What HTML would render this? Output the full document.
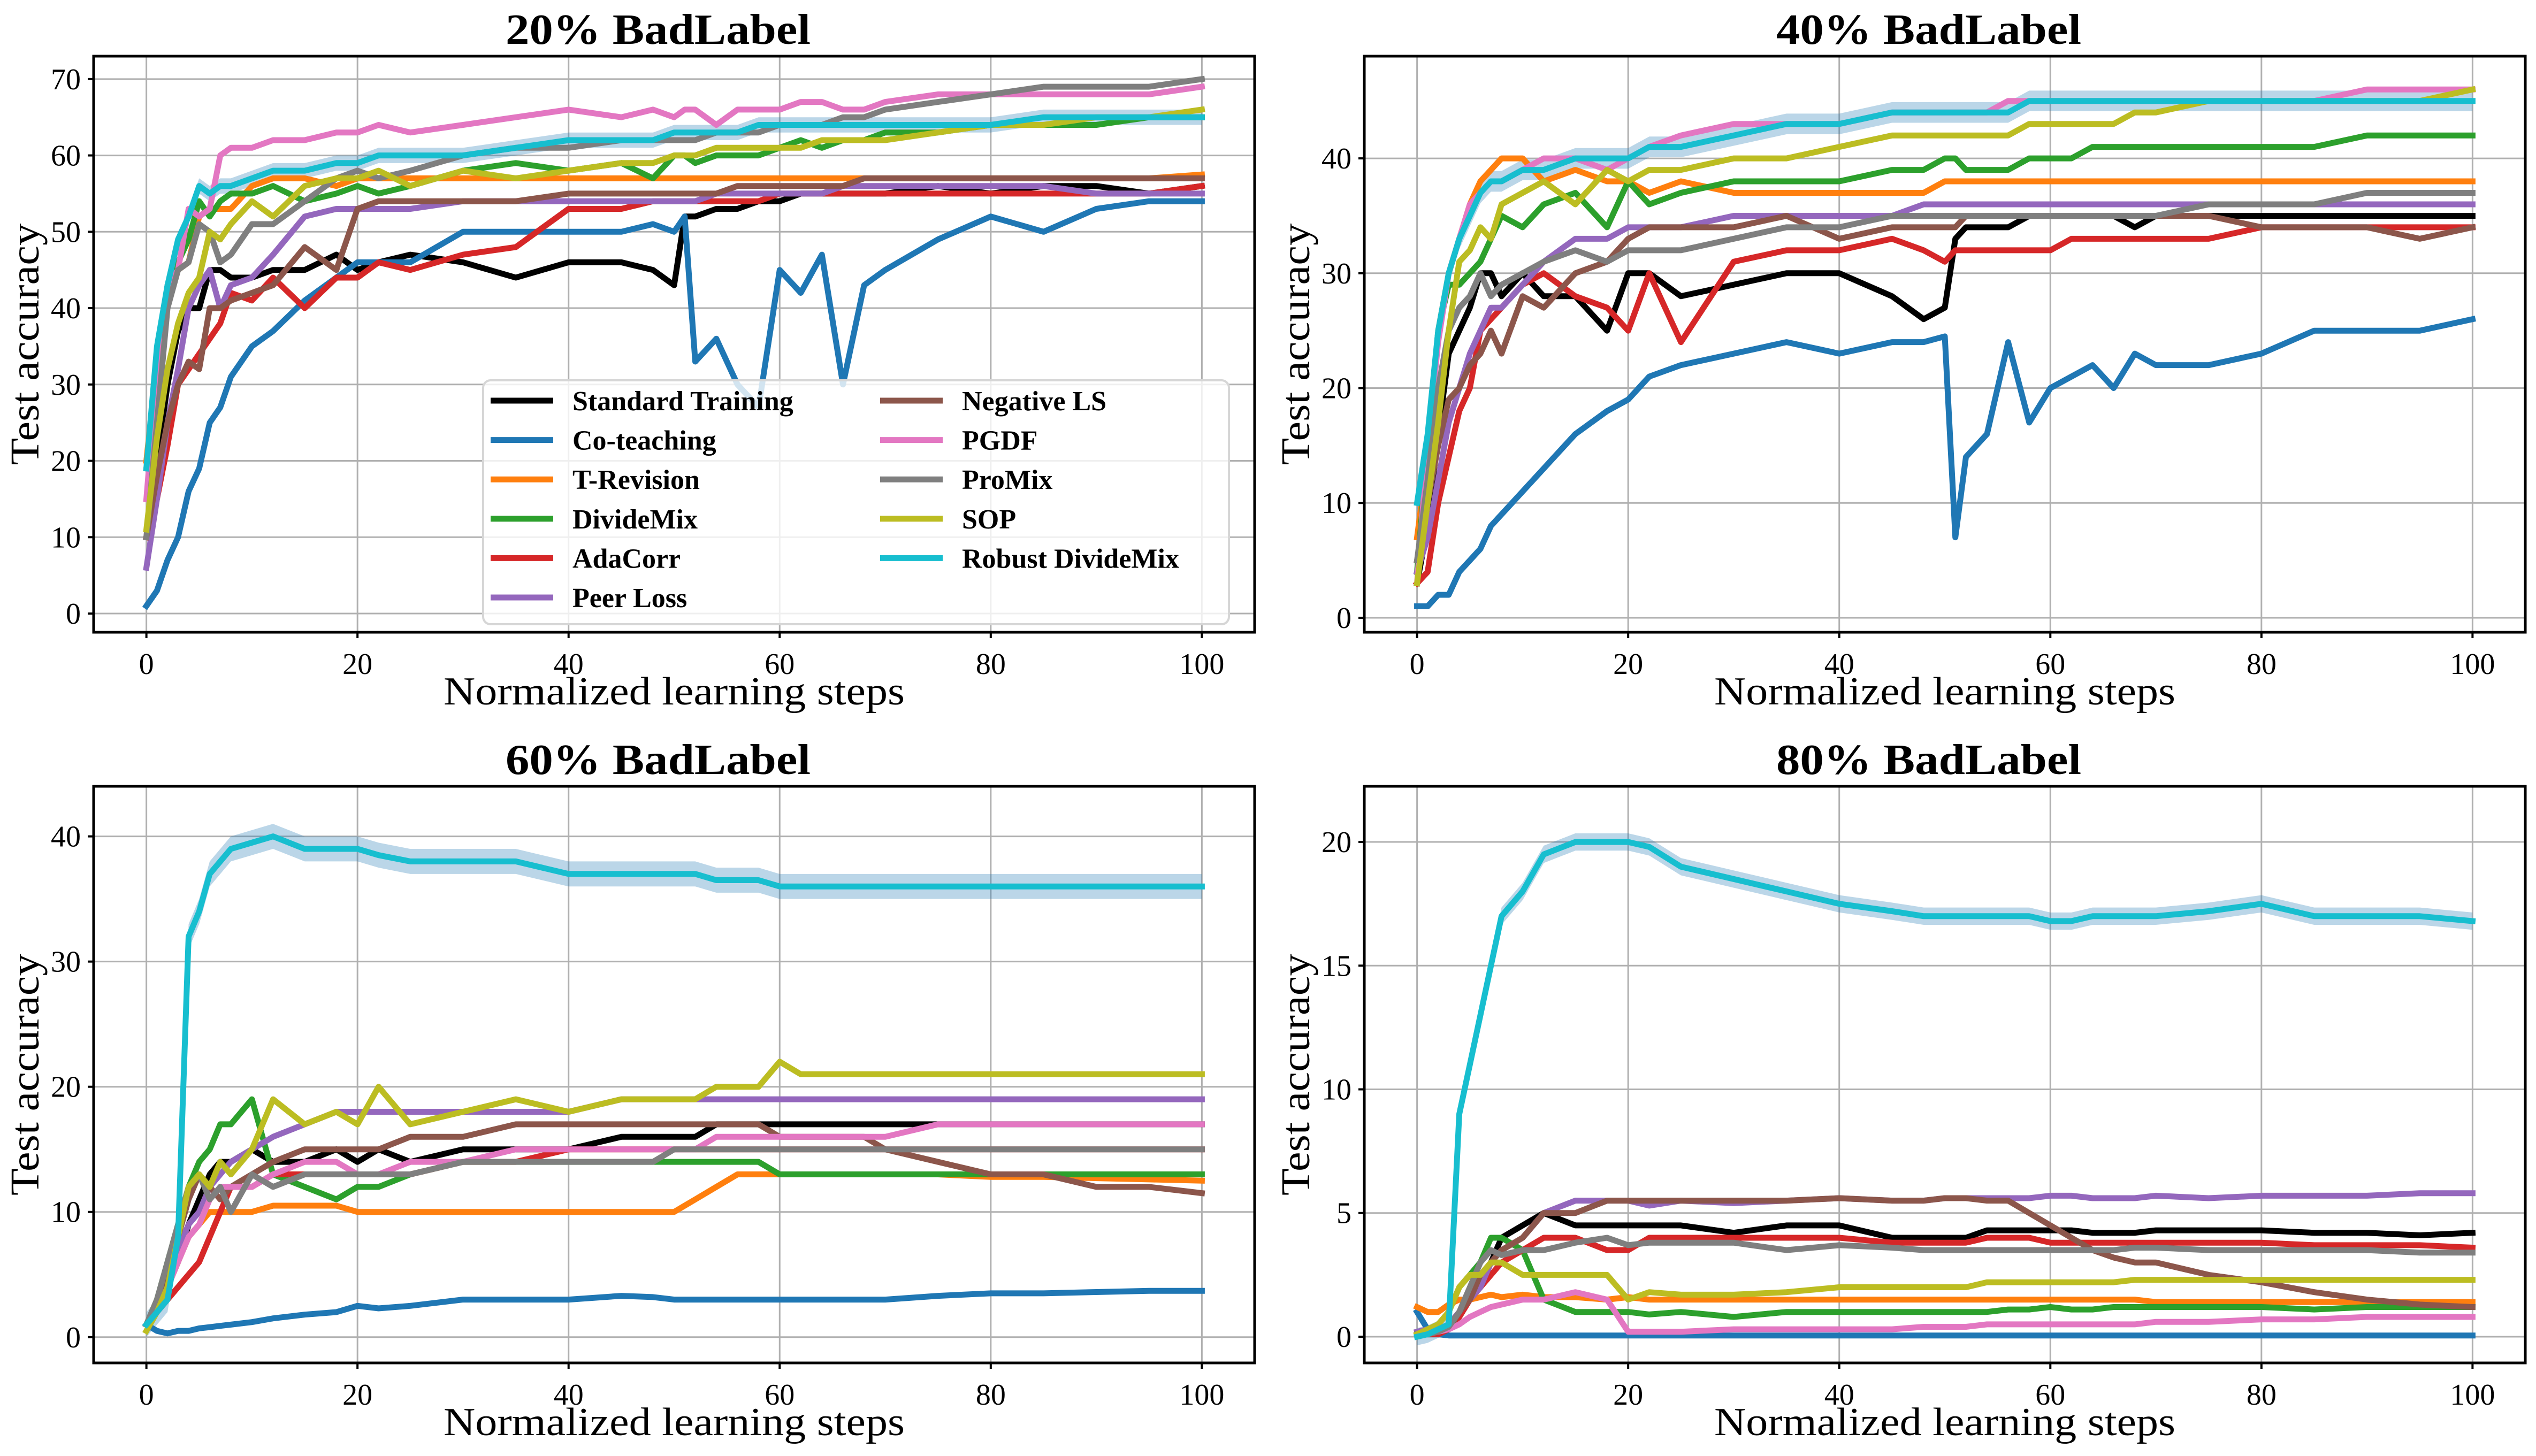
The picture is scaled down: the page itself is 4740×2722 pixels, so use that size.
<!DOCTYPE html>
<html><head><meta charset="utf-8"><style>
html,body{margin:0;padding:0;background:#fff;}
svg{display:block;}
text{font-family:"Liberation Serif","DejaVu Serif",serif;fill:#000;}
</style></head><body>
<svg id="fig" width="4740" height="2722" viewBox="0 0 4740 2722" xmlns="http://www.w3.org/2000/svg"></svg>
<script>
const steps = [0,1,2,3,4,5,6,7,8,10,12,15,18,20,22,25,30,35,40,45,48,50,51,52,54,56,58,60,62,64,66,68,70,75,80,85,90,95,100];
const methods = ["Standard Training","Co-teaching","T-Revision","DivideMix","AdaCorr","Peer Loss","Negative LS","PGDF","ProMix","SOP","Robust DivideMix"];
const titles = ["20% BadLabel","40% BadLabel","60% BadLabel","80% BadLabel"];
const yTicks1 = [0,10,20,30,40,50,60,70];
const yTicks2 = [0,10,20,30,40];
const yTicks3 = [0,10,20,30,40];
const yTicks4 = [0,5,10,15,20];
const xTicks = [0,20,40,60,80,100];
const bandHalf = [1.0,0.9,1.0,0.35];

const p1 = {
"Standard Training":[10,20,30,37,40,40,45,45,44,44,45,45,47,45,46,47,46,44,46,46,45,43,52,52,53,53,54,54,55,55,55,55,55,56,55,56,56,55,56],
"Co-teaching":[1,3,7,10,16,19,25,27,31,35,37,41,44,46,46,46,50,50,50,50,51,50,52,33,36,30,27,45,42,47,30,43,45,49,52,50,53,54,54],
"T-Revision":[20,33,42,45,46,52,53,53,53,56,57,57,56,57,57,57,57,57,57,57,57,57,57,57,57,57,57,57,57,57,57,57,57,57,57,57,57,57,57.5],
"DivideMix":[19,33,43,46,49,54,52,54,55,55,56,54,55,56,55,56,58,59,58,59,57,60,60,59,60,60,60,61,62,61,62,62,63,63,64,64,64,65,65],
"AdaCorr":[10,15,22,30,32,34,36,38,42,41,44,40,44,44,46,45,47,48,53,53,54,54,54,54,54,54,54,55,55,55,55,55,55,55,55,55,55,55,56],
"Peer Loss":[6,15,25,32,40,43,45,40,43,44,47,52,53,53,53,53,54,54,54,54,54,54,54,54,55,55,55,55,55,55,56,56,56,56,56,56,55,55,55],
"Negative LS":[10,18,25,30,33,32,40,40,41,42,43,48,45,53,54,54,54,54,55,55,55,55,55,55,55,56,56,56,56,56,56,57,57,57,57,57,57,57,57],
"PGDF":[15,32,43,45,53,52,53,60,61,61,62,62,63,63,64,63,64,65,66,65,66,65,66,66,64,66,66,66,67,67,66,66,67,68,68,68,68,68,69],
"ProMix":[10,25,40,45,46,51,50,46,47,51,51,54,57,58,57,58,60,61,61,62,62,62,62,62,63,63,63,64,64,64,65,65,66,67,68,69,69,69,70],
"SOP":[11,23,32,38,42,44,50,49,51,54,52,56,57,57,58,56,58,57,58,59,59,60,60,60,61,61,61,61,61,62,62,62,62,63,64,64,65,65,66],
"Robust DivideMix":[19,35,43,49,52,56,55,56,56,57,58,58,59,59,60,60,60,61,62,62,62,63,63,63,63,63,64,64,64,64,64,64,64,64,64,65,65,65,65]
};
const p2 = {
"Standard Training":[3,8,16,23,25,27,30,30,28,30,28,28,25,30,30,28,29,30,30,28,26,27,33,34,34,34,35,35,35,35,35,34,35,35,35,35,35,35,35],
"Co-teaching":[1,1,2,2,4,5,6,8,9,11,13,16,18,19,21,22,23,24,23,24,24,24.5,7,14,16,24,17,20,21,22,20,23,22,22,23,25,25,25,26],
"T-Revision":[7,14,25,30,33,36,38,39,40,40,38,39,38,38,37,38,37,37,37,37,37,38,38,38,38,38,38,38,38,38,38,38,38,38,38,38,38,38,38],
"DivideMix":[4,15,25,29,29,30,31,33,35,34,36,37,34,38,36,37,38,38,38,39,39,40,40,39,39,39,40,40,40,41,41,41,41,41,41,41,42,42,42],
"AdaCorr":[3,4,10,14,18,20,25,26,27,29,30,28,27,25,30,24,31,32,32,33,32,31,32,32,32,32,32,32,33,33,33,33,33,33,34,34,34,34,34],
"Peer Loss":[4,7,12,17,20,23,25,27,27,29,31,33,33,34,34,34,35,35,35,35,36,36,36,36,36,36,36,36,36,36,36,36,36,36,36,36,36,36,36],
"Negative LS":[5,10,15,19,20,22,23,25,23,28,27,30,31,33,34,34,34,35,33,34,34,34,34,35,35,35,35,35,35,35,35,35,35,35,34,34,34,33,34],
"PGDF":[3,15,24,30,33,36,37,38,38,39,40,40,39,40,41,42,43,43,43,44,44,44,44,44,44,45,45,45,45,45,45,45,45,45,45,45,46,46,46],
"ProMix":[5,12,20,25,27,28,30,28,29,30,31,32,31,32,32,32,33,34,34,35,35,35,35,35,35,35,35,35,35,35,35,35,35,36,36,36,37,37,37],
"SOP":[3,10,17,25,31,32,34,33,36,37,38,36,39,38,39,39,40,40,41,42,42,42,42,42,42,42,43,43,43,43,43,44,44,45,45,45,45,45,46],
"Robust DivideMix":[10,16,25,30,33,35,37,38,38,39,39,40,40,40,41,41,42,43,43,44,44,44,44,44,44,44,45,45,45,45,45,45,45,45,45,45,45,45,45]
};
const p3 = {
"Standard Training":[1,2,4,6,9,11,13,14,14,15,14,14,15,14,15,14,15,15,15,16,16,16,16,16,17,17,17,17,17,17,17,17,17,17,17,17,17,17,17],
"Co-teaching":[1,0.5,0.3,0.5,0.5,0.7,0.8,0.9,1,1.2,1.5,1.8,2,2.5,2.3,2.5,3,3,3,3.3,3.2,3,3,3,3,3,3,3,3,3,3,3,3,3.3,3.5,3.5,3.6,3.7,3.7],
"T-Revision":[1,2,4,6,8,9,10,10,10,10,10.5,10.5,10.5,10,10,10,10,10,10,10,10,10,10.5,11,12,13,13,13,13,13,13,13,13,13,12.8,12.8,12.7,12.6,12.5],
"DivideMix":[1,3,6,9,12,14,15,17,17,19,13,12,11,12,12,13,14,14,14,14,14,14,14,14,14,14,14,13,13,13,13,13,13,13,13,13,13,13,13],
"AdaCorr":[1,2,3,4,5,6,8,10,12,12,13,13,13,13,13,13,14,14,15,15,15,15,15,15,15,15,15,15,15,15,15,15,15,15,15,15,15,15,15],
"Peer Loss":[1,2,4,7,9,10,12,13,14,15,16,17,18,18,18,18,18,18,18,19,19,19,19,19,19,19,19,19,19,19,19,19,19,19,19,19,19,19,19],
"Negative LS":[1,2,5,8,11,13,12,11,12,13,14,15,15,15,15,16,16,17,17,17,17,17,17,17,17,17,17,16,16,16,16,16,15,14,13,13,12,12,11.5],
"PGDF":[1,2,4,6,8,9,11,12,12,12,13,14,14,13,13,14,14,15,15,15,15,15,15,15,16,16,16,16,16,16,16,16,16,17,17,17,17,17,17],
"ProMix":[1,3,6,9,12,13,11,12,10,13,12,13,13,13,13,13,14,14,14,14,14,15,15,15,15,15,15,15,15,15,15,15,15,15,15,15,15,15,15],
"SOP":[0.5,2,4,8,12,13,12,14,13,15,19,17,18,17,20,17,18,19,18,19,19,19,19,19,20,20,20,22,21,21,21,21,21,21,21,21,21,21,21],
"Robust DivideMix":[1,2,3,8,32,34,37,38,39,39.5,40,39,39,39,38.5,38,38,38,37,37,37,37,37,37,36.5,36.5,36.5,36,36,36,36,36,36,36,36,36,36,36,36]
};
const p4 = {
"Standard Training":[0.1,0.1,0.1,0.3,0.8,1.5,2,3,4,4.5,5,4.5,4.5,4.5,4.5,4.5,4.2,4.5,4.5,4,4,4,4,4,4.3,4.3,4.3,4.3,4.3,4.2,4.2,4.2,4.3,4.3,4.3,4.2,4.2,4.1,4.2],
"Co-teaching":[1,0.3,0.1,0.05,0.05,0.05,0.05,0.05,0.05,0.05,0.05,0.05,0.05,0.05,0.05,0.05,0.05,0.05,0.05,0.05,0.05,0.05,0.05,0.05,0.05,0.05,0.05,0.05,0.05,0.05,0.05,0.05,0.05,0.05,0.05,0.05,0.05,0.05,0.05],
"T-Revision":[1.2,1,1,1.3,1.5,1.5,1.6,1.7,1.6,1.7,1.6,1.6,1.5,1.6,1.5,1.5,1.5,1.5,1.5,1.5,1.5,1.5,1.5,1.5,1.5,1.5,1.5,1.5,1.5,1.5,1.5,1.5,1.4,1.4,1.4,1.4,1.4,1.4,1.4],
"DivideMix":[0.1,0.1,0.5,1,2,2.5,3,4,4,3.5,1.5,1,1,1,0.9,1,0.8,1,1,1,1,1,1,1,1,1.1,1.1,1.2,1.1,1.1,1.2,1.2,1.2,1.2,1.2,1.1,1.2,1.2,1.2],
"AdaCorr":[0.1,0.1,0.1,0.3,0.8,1.5,2,2.5,3,3.5,4,4,3.5,3.5,4,4,4,4,4,3.8,3.8,3.8,3.8,3.8,4,4,4,3.8,3.8,3.8,3.8,3.8,3.8,3.8,3.8,3.7,3.7,3.7,3.6],
"Peer Loss":[0.2,0.3,0.3,0.5,1,1.5,2,3,3.5,4,5,5.5,5.5,5.5,5.3,5.5,5.4,5.5,5.6,5.5,5.5,5.6,5.6,5.6,5.6,5.6,5.6,5.7,5.7,5.6,5.6,5.6,5.7,5.6,5.7,5.7,5.7,5.8,5.8],
"Negative LS":[0.1,0.1,0.2,0.3,1,1.5,2.5,3,3.5,4,5,5,5.5,5.5,5.5,5.5,5.5,5.5,5.6,5.5,5.5,5.6,5.6,5.6,5.5,5.5,5,4.5,4,3.5,3.2,3,3,2.5,2.2,1.8,1.5,1.3,1.2],
"PGDF":[0.1,0.2,0.2,0.3,0.5,0.8,1,1.2,1.3,1.5,1.5,1.8,1.5,0.2,0.2,0.2,0.3,0.3,0.3,0.3,0.4,0.4,0.4,0.4,0.5,0.5,0.5,0.5,0.5,0.5,0.5,0.5,0.6,0.6,0.7,0.7,0.8,0.8,0.8],
"ProMix":[0.1,0.1,0.2,0.4,1,2,3,3.5,3.3,3.5,3.5,3.8,4,3.7,3.8,3.8,3.8,3.5,3.7,3.6,3.5,3.5,3.5,3.5,3.5,3.5,3.5,3.5,3.5,3.5,3.5,3.6,3.6,3.5,3.5,3.5,3.5,3.4,3.4],
"SOP":[0.1,0.3,0.5,1,2,2.5,2.5,3,3,2.5,2.5,2.5,2.5,1.5,1.8,1.7,1.7,1.8,2,2,2,2,2,2,2.2,2.2,2.2,2.2,2.2,2.2,2.2,2.3,2.3,2.3,2.3,2.3,2.3,2.3,2.3],
"Robust DivideMix":[0,0.1,0.3,0.5,9,11,13,15,17,18,19.5,20,20,20,19.8,19,18.5,18,17.5,17.2,17,17,17,17,17,17,17,16.8,16.8,17,17,17,17,17.2,17.5,17,17,17,16.8]
};

const colors = ["#000000","#1f77b4","#ff7f0e","#2ca02c","#d62728","#9467bd","#8c564b","#e377c2","#7f7f7f","#bcbd22","#17becf"];
const NS = "http://www.w3.org/2000/svg";
const svg = document.getElementById('fig');
function mk(tag, attrs, parent){const e=document.createElementNS(NS,tag);for(const k in attrs)e.setAttribute(k,attrs[k]);(parent||svg).appendChild(e);return e;}

const panels = [
 {L:175,T:105,W:2170,H:1077,ylo:-2.45,yhi:73.0,ticks:yTicks1,data:p1},
 {L:2550,T:105,W:2170,H:1077,ylo:-1.26,yhi:48.9,ticks:yTicks2,data:p2},
 {L:175,T:1470,W:2170,H:1078,ylo:-2.06,yhi:44.0,ticks:yTicks3,data:p3},
 {L:2550,T:1470,W:2170,H:1078,ylo:-1.06,yhi:22.25,ticks:yTicks4,data:p4}
];

panels.forEach((P,pi)=>{
  const g = mk('g',{});
  
  
  const sx = v => P.L + (v+5)/110*P.W;
  const sy = v => P.T + P.H - (v-P.ylo)/(P.yhi-P.ylo)*P.H;
  const clipId='clip'+pi;
  const cp=mk('clipPath',{id:clipId},g); mk('rect',{x:P.L,y:P.T,width:P.W,height:P.H},cp);
  // grid
  xTicks.forEach(t=>{const l=mk('line',{x1:sx(t),x2:sx(t),y1:P.T,y2:P.T+P.H,stroke:'#b0b0b0','stroke-width':3},g);
    });
  P.ticks.forEach(t=>{const l=mk('line',{x1:P.L,x2:P.L+P.W,y1:sy(t),y2:sy(t),stroke:'#b0b0b0','stroke-width':3},g);
    });
  const dg = mk('g',{'clip-path':'url(#'+clipId+')'},g);
  // band for robust dividemix
  const rd = P.data["Robust DivideMix"];
  let up = steps.map((s,i)=>sx(s)+','+sy(rd[i]+bandHalf[pi]));
  let dn = steps.map((s,i)=>sx(s)+','+sy(rd[i]-bandHalf[pi])).reverse();
  const band = mk('polygon',{points:up.concat(dn).join(' '),fill:'#1f77b4','fill-opacity':0.3,stroke:'none'},dg);
  
  
  methods.forEach((m,mi)=>{
    const vals = P.data[m];
    const pts = steps.map((s,i)=>sx(s).toFixed(1)+','+sy(vals[i]).toFixed(1)).join(' ');
    const pl = mk('polyline',{points:pts,fill:'none',stroke:colors[mi],'stroke-width':11,'stroke-linejoin':'round','stroke-linecap':'square'},dg);
    
    
  });
  // spines
  const sp = mk('rect',{x:P.L,y:P.T,width:P.W,height:P.H,fill:'none',stroke:'#000','stroke-width':5},g);
  
  
  // ticks
  xTicks.forEach(t=>{
    mk('line',{x1:sx(t),x2:sx(t),y1:P.T+P.H,y2:P.T+P.H+11,stroke:'#000','stroke-width':4},g);
    const tx=mk('text',{x:sx(t),y:P.T+P.H+78,'text-anchor':'middle','font-size':56},g);
    tx.textContent=t;
    
    
  });
  P.ticks.forEach(t=>{
    mk('line',{x1:P.L-11,x2:P.L,y1:sy(t),y2:sy(t),stroke:'#000','stroke-width':4},g);
    const tx=mk('text',{x:P.L-24,y:sy(t)+19,'text-anchor':'end','font-size':56},g);
    tx.textContent=t;
    
    
  });
  const ti=mk('text',{x:P.L+P.W/2-30,y:P.T-23,'text-anchor':'middle','font-size':80,'font-weight':'bold',textLength:570,lengthAdjust:'spacingAndGlyphs'},g);
  ti.textContent=titles[pi];
  
  
  const xl=mk('text',{x:P.L+P.W/2,y:P.T+P.H+135,'text-anchor':'middle','font-size':74,textLength:862,lengthAdjust:'spacingAndGlyphs'},g);
  xl.textContent='Normalized learning steps';
  
  
  const cy=P.T+P.H/2, cx=P.L-103;
  const yl=mk('text',{x:cx,y:cy,'text-anchor':'middle','font-size':76,transform:'rotate(-90 '+cx+' '+cy+')',textLength:452,lengthAdjust:'spacingAndGlyphs'},g);
  yl.textContent='Test accuracy';
  
  
});

// legend in panel 1
const lg = mk('g',{});


mk('rect',{x:903,y:711,width:1394,height:456,rx:14,fill:'#fff','fill-opacity':0.8,stroke:'#d6d6d6','stroke-width':4},lg);
methods.forEach((m,mi)=>{
  const col = mi<6?0:1, row = mi<6?mi:mi-6;
  const hx = col===0?917:1645, tx = col===0?1070:1798;
  const y = 749 + row*73.6;
  const h = mk('line',{x1:hx,x2:hx+117,y1:y,y2:y,stroke:colors[mi],'stroke-width':11},lg);
  
  
  const t = mk('text',{x:tx,y:y+18,'font-size':52,'font-weight':'bold'},lg);
  t.textContent=m;
  
  
});
</script>
</body></html>
